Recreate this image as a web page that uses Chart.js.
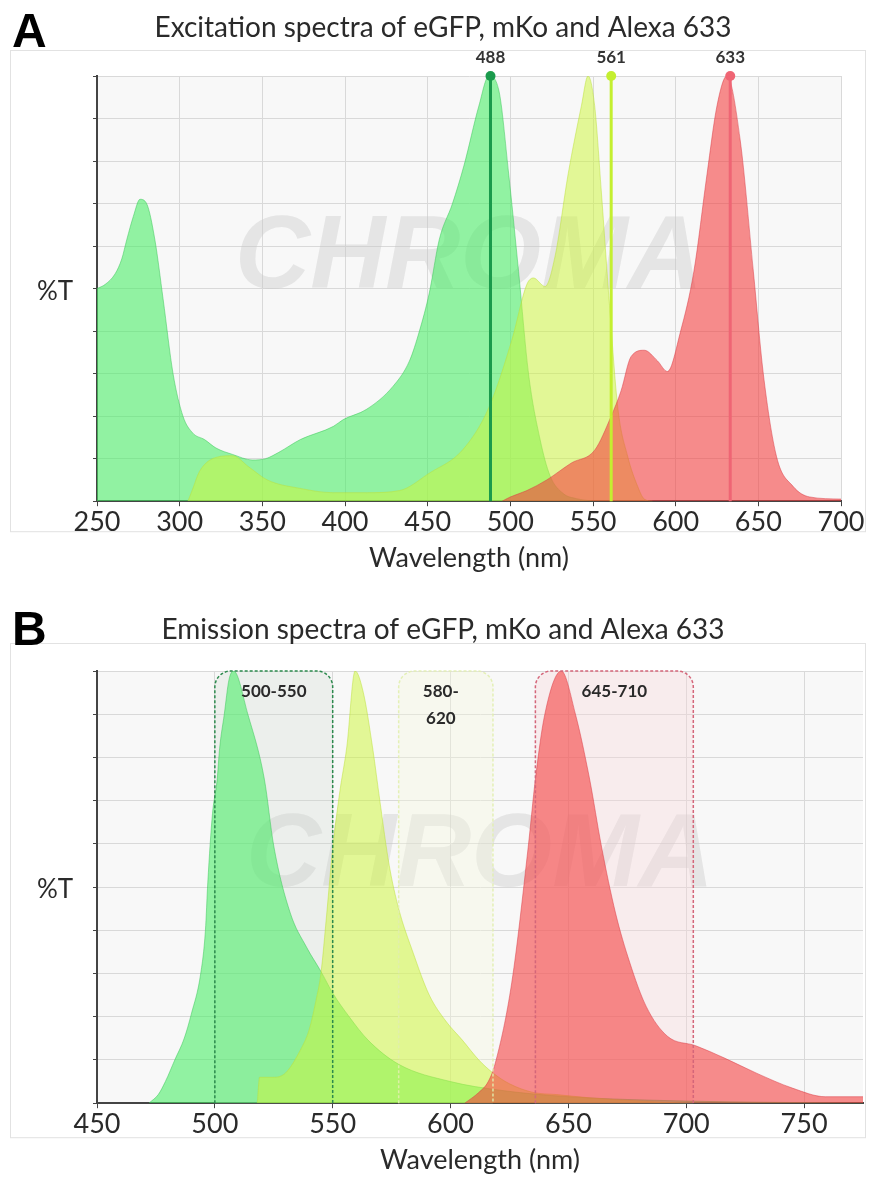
<!DOCTYPE html>
<html>
<head>
<meta charset="utf-8">
<script src="https://cdn.jsdelivr.net/npm/chart.js@4.4.1/dist/chart.umd.min.js"></script>
<style>
    html, body { margin: 0; padding: 0; background: #fff; width: 875px; height: 1178px; overflow: hidden; }
    .panel { position: absolute; left: 0; width: 875px; }
    #panelA { top: 0; height: 590px; }
    #panelB { top: 588px; height: 590px; }
</style>
</head>
<body>
<div class="panel" id="panelA"><canvas id="chartA"></canvas></div>
<div class="panel" id="panelB"><canvas id="chartB"></canvas></div>
<script>
// ---- Panel A: excitation spectra (wavelength in nm, %T) ----
const EX_EGFP_NM = [250, 255, 261, 265, 268, 272, 276, 280, 285, 290, 296, 302, 308, 315, 322, 332, 344, 352, 360, 373,
    393, 399, 413, 429, 439, 445, 451, 457, 465, 472, 481, 487, 493, 499, 505, 511, 518, 524, 532, 540, 550];
const EX_EGFP_T = [50, 51, 53.5, 57, 61.5, 67, 71, 70, 61.5, 47.5, 30, 20, 16, 14.5, 12.5, 11, 9.7, 10, 11.5, 14.5,
    17.6, 19.2, 21.6, 27, 33, 40, 49, 61.5, 70, 79, 93, 100, 96.7, 77, 54, 30, 14.5, 6, 1.8, 0.6, 0];

const EX_MKO_NM = [305, 308, 312, 322, 332, 342, 353, 373, 393, 413, 433, 451, 471, 487, 501, 510, 514, 521, 527, 535,
    543, 547, 551, 555, 560, 565, 571, 577, 581, 586];
const EX_MKO_T = [0, 3, 7, 10.3, 10.7, 8, 5, 3, 2, 2, 2.5, 6.6, 12, 22, 38, 51, 52.5, 50.5, 57.5, 77,
    93, 100, 93, 73, 46, 22, 10.5, 3.5, 0.5, 0];

const EX_ALEXA_NM = [495, 500, 510, 522, 537, 551, 561, 567, 573, 581, 589, 595, 603, 611, 619, 625, 631, 639, 647, 653,
    661, 671, 681, 700];
const EX_ALEXA_T = [0, 1, 2.5, 5, 9, 12, 20, 26, 34, 35.5, 33, 30.5, 40, 54, 77, 93, 100, 85, 54, 30,
    10.5, 3.5, 1, 0.5];

const LASER_NM = [488, 561, 633];
const LASER_LABELS = ['488', '561', '633'];

// ---- Panel B: emission spectra ----
const EM_EGFP_NM = [472, 476, 479, 483, 487, 490, 494, 496, 497, 499, 501, 502, 504, 506, 508, 514, 521, 525, 532, 539,
    545, 550, 557, 565, 578, 600, 621, 650, 700, 775];
const EM_EGFP_T = [0, 2, 5, 10, 15, 20.6, 30, 40, 51, 67, 75, 82, 90, 98, 100, 90, 75, 59.5, 44, 36,
    30.5, 25.5, 20, 14.6, 9, 5, 3, 1.5, 0.5, 0];

const EM_MKO_NM = [518, 519, 525, 530, 536, 540, 543, 545, 547.5, 550, 553, 556, 559.5, 563, 567, 570, 574, 578, 584, 591,
    598, 605, 612, 618, 625, 635, 645, 660, 680, 700];
const EM_MKO_T = [0, 6, 6, 7, 12, 17, 24, 30, 44, 59, 72, 82.5, 100, 95, 82, 70, 55, 45, 35, 25,
    19, 14.6, 10, 7, 4.5, 2.5, 2, 1.2, 0.5, 0];

const EM_ALEXA_NM = [606, 612, 616, 619, 626, 633, 636, 640, 647, 653, 659, 664, 670, 676, 683, 692, 704, 716, 730, 745,
    759, 775];
const EM_ALEXA_T = [0, 2.5, 5, 9.3, 28, 59.5, 75, 90, 100, 90, 75, 59.5, 44, 32.6, 22.4, 15.5, 13.3, 10.5, 6.9, 3.5,
    1.5, 1.5];

const FILTER_LO = [500, 578, 636];
const FILTER_HI = [550, 618, 703];
const FILTER_LABELS = [['500-550'], ['580-', '620'], ['645-710']];

// ---- styles ----
const FILL = {
    green: 'rgba(70,238,100,0.58)',
    yellow: 'rgba(205,245,60,0.52)',
    red: 'rgba(245,60,60,0.58)'
};
const EDGE = {
    green: 'rgba(60,200,90,0.5)',
    yellow: 'rgba(190,225,60,0.5)',
    red: 'rgba(220,60,70,0.5)'
};
const LASER_COLORS = ['#1a9a4c', '#c4ef30', '#ef6574'];
const FILTER_STYLE = [
    { stroke: '#2d8a4e', fill: 'rgba(205,215,205,0.28)' },
    { stroke: 'rgba(225,238,175,0.9)', fill: 'rgba(245,248,220,0.35)' },
    { stroke: '#d4667a', fill: 'rgba(250,215,218,0.35)' }
];
const TEXT = '#2a2a2a';
const FONT = 'Lato, "Open Sans", sans-serif';

function toPoints(xs, ys) {
    return xs.map((x, i) => ({ x, y: ys[i] }));
}

function spectrum(xs, ys, color, order) {
    return {
        data: toPoints(xs, ys),
        backgroundColor: FILL[color],
        borderColor: EDGE[color],
        borderWidth: 1,
        fill: 'origin',
        pointRadius: 0,
        cubicInterpolationMode: 'monotone',
        order
    };
}

// Frame, plot background, panel letter, title, %T label and watermark
const panelDecor = {
    id: 'panelDecor',
    beforeDraw(chart, args, opts) {
        const { ctx, chartArea: a } = chart;
        ctx.save();
        ctx.strokeStyle = '#e2e2e2';
        ctx.lineWidth = 1;
        ctx.strokeRect(10.5, a.top - opts.frameTop + 0.5, chart.width - 20, a.bottom - a.top + opts.frameTop + opts.frameBottom);
        ctx.fillStyle = '#f8f8f8';
        ctx.fillRect(a.left, a.top, a.right - a.left, a.bottom - a.top);
        ctx.restore();
    },
    beforeDatasetsDraw(chart) {
        const { ctx, chartArea: a } = chart;
        ctx.save();
        ctx.fillStyle = 'rgba(200,200,200,0.4)';
        ctx.font = 'italic bold 104px "Liberation Sans", Arial, sans-serif';
        ctx.textAlign = 'center';
        ctx.textBaseline = 'middle';
        ctx.fillText('CHROMA', (a.left + a.right) / 2, a.top + (a.bottom - a.top) * 0.43);
        ctx.restore();
    },
    afterDraw(chart, args, opts) {
        const { ctx, chartArea: a } = chart;
        ctx.save();
        ctx.fillStyle = '#000';
        ctx.font = 'bold 48px "Liberation Sans", Arial, sans-serif';
        ctx.textBaseline = 'alphabetic';
        ctx.textAlign = 'left';
        ctx.fillText(opts.letter, 12, opts.letterY);
        ctx.fillStyle = TEXT;
        ctx.font = '28px ' + FONT;
        ctx.textAlign = 'center';
        ctx.textBaseline = 'middle';
        ctx.fillText(opts.title, 443, opts.titleY);
        ctx.font = '26px ' + FONT;
        ctx.textAlign = 'left';
        ctx.fillText('%T', 37, (a.top + a.bottom) / 2 + 3);
        ctx.restore();
    }
};

// Laser line labels above the plot (lines themselves are datasets)
const laserLabels = {
    id: 'laserLabels',
    afterDatasetsDraw(chart, args, opts) {
        if (!opts.labels) return;
        const { ctx, chartArea: a, scales: { x } } = chart;
        ctx.save();
        ctx.fillStyle = '#333';
        ctx.font = 'bold 17px ' + FONT;
        ctx.textAlign = 'center';
        ctx.textBaseline = 'middle';
        opts.positions.forEach((nm, i) => {
            ctx.fillText(opts.labels[i], x.getPixelForValue(nm), a.top - 18);
        });
        ctx.restore();
    }
};

function bandPath(ctx, x1, x2, top, bottom, r) {
    ctx.beginPath();
    ctx.moveTo(x1, bottom);
    ctx.lineTo(x1, top + r);
    ctx.arcTo(x1, top, x1 + r, top, r);
    ctx.lineTo(x2 - r, top);
    ctx.arcTo(x2, top, x2, top + r, r);
    ctx.lineTo(x2, bottom);
}

// Emission filter windows (rounded dashed boxes)
const filterBands = {
    id: 'filterBands',
    beforeDatasetsDraw(chart, args, opts) {
        if (!opts.lo) return;
        const { ctx, chartArea: a, scales: { x } } = chart;
        ctx.save();
        opts.lo.forEach((lo, i) => {
            bandPath(ctx, x.getPixelForValue(lo), x.getPixelForValue(opts.hi[i]), a.top, a.bottom, 16);
            ctx.closePath();
            ctx.fillStyle = FILTER_STYLE[i].fill;
            ctx.fill();
        });
        ctx.restore();
    },
    afterDatasetsDraw(chart, args, opts) {
        if (!opts.lo) return;
        const { ctx, chartArea: a, scales: { x } } = chart;
        ctx.save();
        opts.lo.forEach((lo, i) => {
            const x1 = x.getPixelForValue(lo);
            const x2 = x.getPixelForValue(opts.hi[i]);
            bandPath(ctx, x1, x2, a.top, a.bottom, 16);
            ctx.setLineDash([3, 2]);
            ctx.lineWidth = 1.5;
            ctx.strokeStyle = FILTER_STYLE[i].stroke;
            ctx.stroke();
            ctx.setLineDash([]);
            ctx.fillStyle = TEXT;
            ctx.font = 'bold 17px ' + FONT;
            ctx.textAlign = 'center';
            ctx.textBaseline = 'middle';
            opts.labels[i].forEach((line, j) => {
                ctx.fillText(line, (x1 + x2) / 2 - (i === 1 ? 5 : 0), a.top + 21 + j * 27);
            });
        });
        ctx.restore();
    }
};

function axisOptions(min, max) {
    return {
        x: {
            type: 'linear',
            min,
            max,
            border: { color: '#444', width: 2 },
            grid: { color: '#d9d9d9', tickColor: '#444', tickLength: 5 },
            ticks: { stepSize: 50, includeBounds: false, padding: 0, color: TEXT, font: { family: FONT, size: 27 } },
            title: {
                display: true,
                text: 'Wavelength (nm)',
                color: TEXT,
                font: { family: FONT, size: 27 },
                padding: { top: 3, bottom: 0 }
            }
        },
        y: {
            min: 0,
            max: 100,
            border: { color: '#444', width: 2 },
            grid: { color: '#d9d9d9', tickColor: '#444', tickLength: 4 },
            ticks: { stepSize: 10, display: false }
        }
    };
}

function baseOptions(min, max, padding, decor) {
    return {
        responsive: true,
        maintainAspectRatio: false,
        animation: false,
        layout: { padding },
        scales: axisOptions(min, max),
        plugins: {
            legend: { display: false },
            tooltip: { enabled: false },
            panelDecor: decor,
            laserLabels: {},
            filterBands: {}
        }
    };
}

const laserDatasets = LASER_NM.map((nm, i) => ({
    data: [{ x: nm, y: 0 }, { x: nm, y: 100 }],
    borderColor: LASER_COLORS[i],
    borderWidth: 3,
    pointRadius: [0, 5],
    pointBackgroundColor: LASER_COLORS[i],
    pointBorderWidth: 0,
    fill: false,
    clip: false,
    order: 0
}));

const optsA = baseOptions(250, 700, { top: 76, left: 93, right: 34, bottom: 16 },
    { letter: 'A', letterY: 47, title: 'Excitation spectra of eGFP, mKo and Alexa 633', titleY: 28, frameTop: 26, frameBottom: 30 });
optsA.plugins.laserLabels = { positions: LASER_NM, labels: LASER_LABELS };

new Chart(document.getElementById('chartA'), {
    type: 'line',
    data: {
        datasets: [
            ...laserDatasets,
            spectrum(EX_ALEXA_NM, EX_ALEXA_T, 'red', 1),
            spectrum(EX_MKO_NM, EX_MKO_T, 'yellow', 2),
            spectrum(EX_EGFP_NM, EX_EGFP_T, 'green', 3)
        ]
    },
    options: optsA,
    plugins: [panelDecor, laserLabels, filterBands]
});

const optsB = baseOptions(450, 775, { top: 83, left: 93, right: 12, bottom: 2 },
    { letter: 'B', letterY: 57, title: 'Emission spectra of eGFP, mKo and Alexa 633', titleY: 42, frameTop: 28, frameBottom: 34 });
optsB.plugins.filterBands = { lo: FILTER_LO, hi: FILTER_HI, labels: FILTER_LABELS };

new Chart(document.getElementById('chartB'), {
    type: 'line',
    data: {
        datasets: [
            spectrum(EM_ALEXA_NM, EM_ALEXA_T, 'red', 1),
            spectrum(EM_MKO_NM, EM_MKO_T, 'yellow', 2),
            spectrum(EM_EGFP_NM, EM_EGFP_T, 'green', 3)
        ]
    },
    options: optsB,
    plugins: [panelDecor, laserLabels, filterBands]
});
</script>
</body>
</html>
